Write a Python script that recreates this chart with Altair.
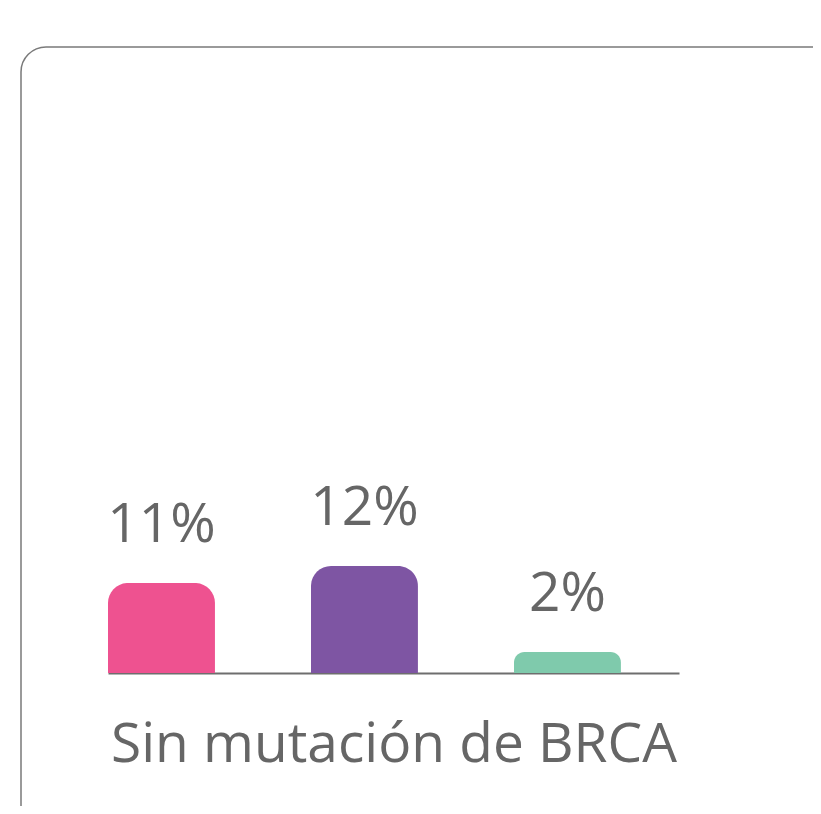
import altair as alt
import pandas as pd

categories = ["A", "B", "C"]
bar_values = [10.1, 12.0, 2.35]
labels = ["11%", "12%", "2%"]
colors = ["#EE5290", "#7E55A3", "#7FCAAC"]
group_title = "Sin mutación de BRCA"

FONT = "Open Sans"
GRAY = "#666666"

df = pd.DataFrame({"cat": categories, "value": bar_values, "label": labels, "color": colors})

x = alt.X("cat:N", sort=categories,
          scale=alt.Scale(paddingInner=0.473, paddingOuter=0.143, align=0),
          axis=alt.Axis(labels=False, ticks=False, domain=True, domainColor="#6e6e6e",
                        domainWidth=2, title=group_title, titleFont=FONT, titleFontSize=55,
                        titleFontWeight="normal", titleColor=GRAY, titleBaseline="alphabetic",
                        titlePadding=88))
y = alt.Y("value:Q", scale=alt.Scale(domain=[0, 74.6], nice=False), axis=None)

bars = alt.Chart(df).mark_bar(cornerRadiusTopLeft=20, cornerRadiusTopRight=20).encode(
    x=x, y=y, color=alt.Color("color:N", scale=None))

text = alt.Chart(df).mark_text(font=FONT, fontSize=55, color=GRAY, dy=-41,
                               baseline="alphabetic").encode(
    x=alt.X("cat:N", sort=categories), y="value:Q", text="label:N")

frame = alt.Chart(alt.Data(values=[{}])).mark_rect(
    fill="transparent", stroke="#7a7a7a", strokeWidth=1.5, cornerRadius=25).encode(
    x=alt.value(-87), x2=alt.value(760), y=alt.value(39), y2=alt.value(900))

chart = alt.layer(frame, bars, text).properties(
    width=571, height=665,
    autosize=alt.AutoSizeParams(type="none"),
    padding={"left": 100, "top": 0, "right": 134, "bottom": 133},
).configure_view(stroke="transparent")

chart.save("out.html", embed_options={"renderer": "svg", "actions": False})
